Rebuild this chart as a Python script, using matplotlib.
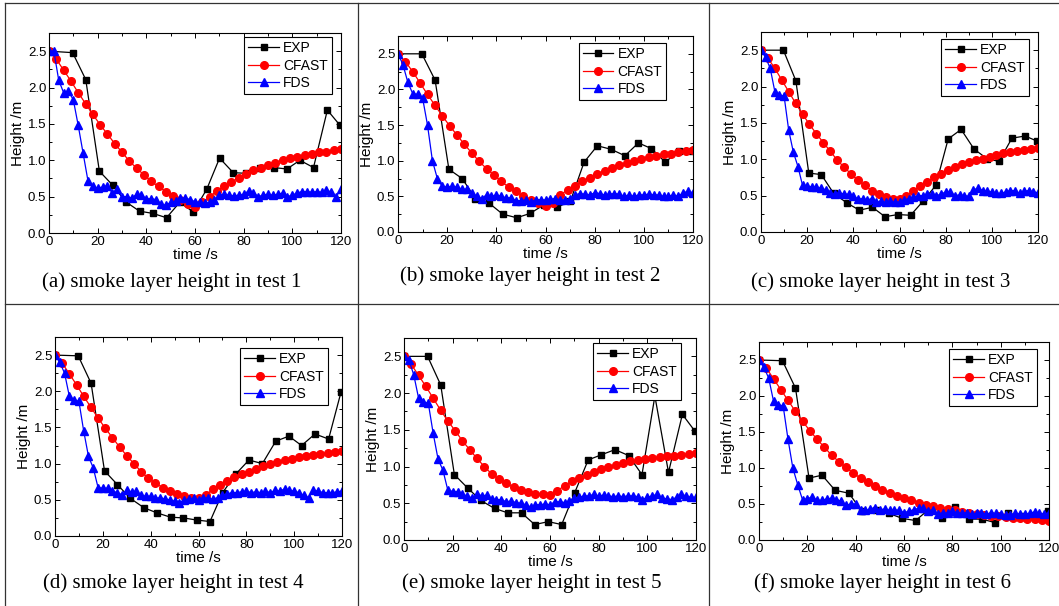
import matplotlib
matplotlib.use('Agg')
import matplotlib.pyplot as plt
from matplotlib.lines import Line2D
from matplotlib.ticker import MultipleLocator

plt.rcParams['font.family'] = 'Liberation Sans'
plt.rcParams['font.size'] = 9

# sample times (s)
t_exp = [0, 9.7, 15.1, 20.7, 26.1, 31.5, 37.2, 42.6, 48.3, 53.7, 59.3, 64.8, 70.1, 75.7,
         81.1, 86.7, 92.3, 97.8, 103.1, 108.7, 114.4, 119.6]
t_cfast = [0, 3, 6, 9, 12, 15, 18, 21, 24, 27, 30, 33, 36, 39, 42, 45, 48, 51, 54, 57, 60,
           63, 66, 69, 72, 75, 78, 81, 84, 87, 90, 93, 96, 99, 102, 105, 108, 111, 114, 117, 120]
t_fds = [0, 2, 4, 6, 8, 10, 12, 14, 16, 18, 20, 22, 24, 26, 28, 30, 32, 34, 36, 38, 40,
         42, 44, 46, 48, 50, 52, 54, 56, 58, 60, 62, 64, 66, 68, 70, 72, 74, 76, 78, 80,
         82, 84, 86, 88, 90, 92, 94, 96, 98, 100, 102, 104, 106, 108, 110, 112, 114, 116, 118, 120]

# smoke layer height (m), test 1..6
exp1 = [2.5, 2.48, 2.11, 0.85, 0.66, 0.43, 0.30, 0.27, 0.21, 0.42, 0.29, 0.60, 1.03, 0.83,
        0.82, 0.90, 0.90, 0.88, 1.00, 0.90, 1.69, 1.48]
exp2 = [2.5, 2.5, 2.13, 0.88, 0.75, 0.47, 0.40, 0.25, 0.20, 0.26, 0.38, 0.35, 0.43, 0.98,
        1.21, 1.16, 1.07, 1.25, 1.17, 0.98, 1.14, 1.14]
exp3 = [2.5, 2.5, 2.08, 0.81, 0.79, 0.53, 0.40, 0.30, 0.34, 0.21, 0.24, 0.23, 0.42, 0.64,
        1.28, 1.41, 1.14, 1.01, 0.97, 1.29, 1.32, 1.25]
exp4 = [2.5, 2.49, 2.11, 0.90, 0.71, 0.52, 0.39, 0.32, 0.26, 0.25, 0.22, 0.20, 0.60, 0.86,
        1.05, 1.00, 1.31, 1.38, 1.25, 1.41, 1.34, 1.99]
exp5 = [2.5, 2.5, 2.11, 0.89, 0.71, 0.54, 0.43, 0.37, 0.37, 0.21, 0.25, 0.21, 0.64, 1.09,
        1.16, 1.23, 1.15, 0.89, 1.96, 0.92, 1.71, 1.48]
exp6 = [2.5, 2.49, 2.11, 0.86, 0.90, 0.69, 0.65, 0.40, 0.41, 0.37, 0.30, 0.27, 0.42, 0.31,
        0.46, 0.29, 0.29, 0.24, 0.37, 0.33, 0.30, 0.40]

cfast1 = [2.5, 2.39, 2.24, 2.09, 1.93, 1.78, 1.63, 1.49, 1.36, 1.23, 1.11, 0.99, 0.89, 0.80,
          0.71, 0.64, 0.57, 0.51, 0.45, 0.40, 0.36, 0.42, 0.50, 0.58, 0.64, 0.70, 0.76, 0.81,
          0.86, 0.90, 0.93, 0.96, 1.00, 1.03, 1.05, 1.07, 1.09, 1.11, 1.12, 1.14, 1.15]
cfast2 = [2.5, 2.39, 2.25, 2.09, 1.93, 1.78, 1.63, 1.49, 1.36, 1.23, 1.11, 0.99, 0.89, 0.80,
          0.71, 0.63, 0.57, 0.50, 0.45, 0.40, 0.37, 0.41, 0.52, 0.59, 0.65, 0.71, 0.76, 0.81,
          0.86, 0.90, 0.94, 0.97, 1.00, 1.02, 1.05, 1.07, 1.09, 1.10, 1.12, 1.14, 1.15]
cfast3 = [2.5, 2.39, 2.25, 2.09, 1.93, 1.77, 1.62, 1.48, 1.35, 1.23, 1.11, 0.99, 0.89, 0.80,
          0.71, 0.64, 0.57, 0.52, 0.48, 0.45, 0.45, 0.49, 0.57, 0.63, 0.69, 0.75, 0.80, 0.85,
          0.89, 0.93, 0.96, 0.99, 1.01, 1.03, 1.06, 1.08, 1.10, 1.11, 1.13, 1.14, 1.16]
cfast4 = [2.5, 2.39, 2.24, 2.09, 1.93, 1.78, 1.63, 1.49, 1.36, 1.23, 1.11, 1.00, 0.89, 0.80,
          0.73, 0.67, 0.62, 0.58, 0.55, 0.53, 0.52, 0.56, 0.65, 0.71, 0.76, 0.81, 0.85, 0.89,
          0.93, 0.97, 1.00, 1.02, 1.05, 1.07, 1.09, 1.10, 1.12, 1.13, 1.15, 1.16, 1.17]
cfast5 = [2.5, 2.39, 2.24, 2.09, 1.93, 1.77, 1.62, 1.49, 1.35, 1.23, 1.11, 1.00, 0.90, 0.83,
          0.77, 0.72, 0.68, 0.65, 0.63, 0.62, 0.61, 0.67, 0.74, 0.80, 0.84, 0.88, 0.92, 0.96,
          0.99, 1.02, 1.05, 1.07, 1.09, 1.10, 1.11, 1.13, 1.14, 1.15, 1.16, 1.17, 1.18]
cfast6 = [2.5, 2.39, 2.24, 2.09, 1.94, 1.79, 1.65, 1.52, 1.40, 1.29, 1.18, 1.09, 1.01, 0.93,
          0.86, 0.80, 0.75, 0.70, 0.65, 0.61, 0.58, 0.55, 0.52, 0.49, 0.47, 0.45, 0.43, 0.41,
          0.39, 0.37, 0.36, 0.35, 0.34, 0.33, 0.32, 0.31, 0.30, 0.29, 0.29, 0.28, 0.27]

fds1 = [2.5, 2.5, 2.1, 1.93, 1.95, 1.83, 1.48, 1.1, 0.72, 0.64, 0.62, 0.63, 0.65, 0.55, 0.6,
        0.5, 0.5, 0.48, 0.53, 0.52, 0.47, 0.47, 0.46, 0.4, 0.38, 0.42, 0.44, 0.48, 0.48, 0.46,
        0.43, 0.42, 0.41, 0.42, 0.46, 0.52, 0.53, 0.52, 0.51, 0.52, 0.53, 0.58, 0.55, 0.5,
        0.52, 0.53, 0.52, 0.53, 0.55, 0.5, 0.52, 0.55, 0.57, 0.57, 0.56, 0.57, 0.56, 0.59,
        0.56, 0.5, 0.6]
fds2 = [2.5, 2.35, 2.1, 1.94, 1.93, 1.88, 1.5, 1.0, 0.75, 0.64, 0.63, 0.64, 0.63, 0.6, 0.6,
        0.55, 0.5, 0.47, 0.52, 0.5, 0.52, 0.5, 0.48, 0.48, 0.44, 0.44, 0.45, 0.42, 0.45, 0.45,
        0.45, 0.46, 0.47, 0.45, 0.45, 0.46, 0.52, 0.54, 0.53, 0.52, 0.55, 0.54, 0.52, 0.53,
        0.54, 0.53, 0.5, 0.52, 0.5, 0.52, 0.52, 0.53, 0.52, 0.52, 0.5, 0.5, 0.52, 0.5,
        0.55, 0.57, 0.55]
fds3 = [2.5, 2.4, 2.25, 1.93, 1.88, 1.87, 1.4, 1.1, 0.9, 0.64, 0.63, 0.62, 0.62, 0.6, 0.58,
        0.53, 0.52, 0.54, 0.52, 0.52, 0.5, 0.45, 0.46, 0.44, 0.46, 0.41, 0.42, 0.41, 0.42,
        0.41, 0.41, 0.44, 0.46, 0.48, 0.5, 0.5, 0.52, 0.52, 0.5, 0.52, 0.55, 0.55, 0.5, 0.51,
        0.5, 0.49, 0.58, 0.6, 0.57, 0.56, 0.55, 0.53, 0.53, 0.55, 0.57, 0.57, 0.53, 0.56,
        0.57, 0.55, 0.54]
fds4 = [2.5, 2.4, 2.25, 1.93, 1.88, 1.86, 1.45, 1.1, 0.94, 0.67, 0.66, 0.66, 0.62, 0.6, 0.57,
        0.63, 0.61, 0.62, 0.56, 0.55, 0.55, 0.52, 0.53, 0.51, 0.5, 0.48, 0.46, 0.5, 0.51,
        0.52, 0.5, 0.53, 0.52, 0.51, 0.53, 0.57, 0.58, 0.6, 0.6, 0.61, 0.62, 0.6, 0.61, 0.6,
        0.62, 0.6, 0.63, 0.62, 0.65, 0.63, 0.62, 0.6, 0.56, 0.53, 0.63, 0.62, 0.6, 0.6, 0.6,
        0.61, 0.62]
fds5 = [2.5, 2.45, 2.25, 1.93, 1.88, 1.86, 1.45, 1.1, 0.95, 0.68, 0.66, 0.66, 0.62, 0.6,
        0.57, 0.63, 0.6, 0.61, 0.56, 0.55, 0.55, 0.52, 0.53, 0.51, 0.5, 0.48, 0.45, 0.48,
        0.48, 0.49, 0.48, 0.52, 0.52, 0.51, 0.53, 0.57, 0.58, 0.6, 0.6, 0.62, 0.6, 0.61, 0.6,
        0.59, 0.6, 0.59, 0.6, 0.6, 0.59, 0.55, 0.58, 0.6, 0.62, 0.57, 0.56, 0.55, 0.58, 0.62,
        0.6, 0.58, 0.58]
fds6 = [2.5, 2.4, 2.25, 1.93, 1.88, 1.86, 1.4, 1.0, 0.77, 0.56, 0.57, 0.6, 0.55, 0.55, 0.57,
        0.58, 0.56, 0.54, 0.48, 0.5, 0.5, 0.42, 0.41, 0.43, 0.45, 0.42, 0.43, 0.41, 0.42,
        0.41, 0.38, 0.4, 0.42, 0.44, 0.45, 0.4, 0.42, 0.36, 0.38, 0.37, 0.4, 0.38, 0.37, 0.38,
        0.36, 0.37, 0.38, 0.36, 0.37, 0.37, 0.36, 0.35, 0.35, 0.37, 0.36, 0.36, 0.37, 0.39,
        0.37, 0.36, 0.38]

exp_all = [exp1, exp2, exp3, exp4, exp5, exp6]
cfast_all = [cfast1, cfast2, cfast3, cfast4, cfast5, cfast6]
fds_all = [fds1, fds2, fds3, fds4, fds5, fds6]
captions = ['(a) smoke layer height in test 1', '(b) smoke layer height in test 2',
            '(c) smoke layer height in test 3', '(d) smoke layer height in test 4',
            '(e) smoke layer height in test 5', '(f) smoke layer height in test 6']

W, H = 1059, 606
fig = plt.figure(figsize=(W / 100, H / 100), dpi=100)

# axes boxes in pixels: left, right, top, bottom
boxes = [(49, 341, 33, 233), (398, 693, 36, 232), (761, 1038, 32, 232),
         (55, 342, 337, 536), (404, 696, 338, 540), (759, 1049, 342, 540)]
# legend upper-right corner (axes fraction)
leg_pos = [(0.969, 0.98), (0.91, 0.964), (0.968, 0.965),
           (0.951, 0.945), (0.949, 0.975), (0.959, 0.965)]
# caption centre (pixels)
cap_pos = [(172, 282), (530, 276), (881, 282), (173, 583), (532, 583), (883, 583)]

for i in range(6):
    l, r, t, b = boxes[i]
    ax = fig.add_axes([l / W, 1 - b / H, (r - l) / W, (b - t) / H])
    ax.plot(t_exp, exp_all[i], color='black', lw=0.9, marker='s', ms=5, label='EXP')
    ax.plot(t_cfast, cfast_all[i], color='red', lw=0.9, marker='o', ms=5.5, label='CFAST')
    ax.plot(t_fds, fds_all[i], color='blue', lw=0.9, marker='^', ms=6, label='FDS')
    ax.set_xlim(0, 120)
    ax.set_ylim(0, 2.75)
    ax.xaxis.set_major_locator(MultipleLocator(20))
    ax.xaxis.set_minor_locator(MultipleLocator(10))
    ax.yaxis.set_major_locator(MultipleLocator(0.5))
    ax.yaxis.set_minor_locator(MultipleLocator(0.25))
    ax.tick_params(which='both', direction='in', top=True, right=True, width=0.7)
    ax.tick_params(which='major', length=3.5, labelsize=9.5, pad=2)
    ax.tick_params(which='minor', length=2)
    for s in ax.spines.values():
        s.set_linewidth(0.8)
    ax.set_xlabel('time /s', fontsize=11, labelpad=0)
    ax.set_ylabel('Height /m', fontsize=11, labelpad=2)
    leg = ax.legend(loc='upper right', bbox_to_anchor=leg_pos[i], borderaxespad=0,
                    fancybox=False, edgecolor='black', framealpha=1, fontsize=10,
                    handlelength=2.2, labelspacing=0.25, borderpad=0.3, handletextpad=0.3)
    leg.get_frame().set_linewidth(0.8)
    cx, cy = cap_pos[i]
    fig.text(cx / W, 1 - cy / H, captions[i], ha='center', va='center',
             family='Liberation Serif', fontsize=15)

# table rules around the panels
rule = dict(color='#333333', lw=0.9, transform=fig.transFigure)
fig.add_artist(Line2D([5 / W, 1], [1 - 3 / H, 1 - 3 / H], **rule))
fig.add_artist(Line2D([5 / W, 1], [1 - 304 / H, 1 - 304 / H], **rule))
for x in [5, 358, 709]:
    fig.add_artist(Line2D([x / W, x / W], [0, 1 - 3 / H], **rule))

fig.savefig('out.png', dpi=100)
